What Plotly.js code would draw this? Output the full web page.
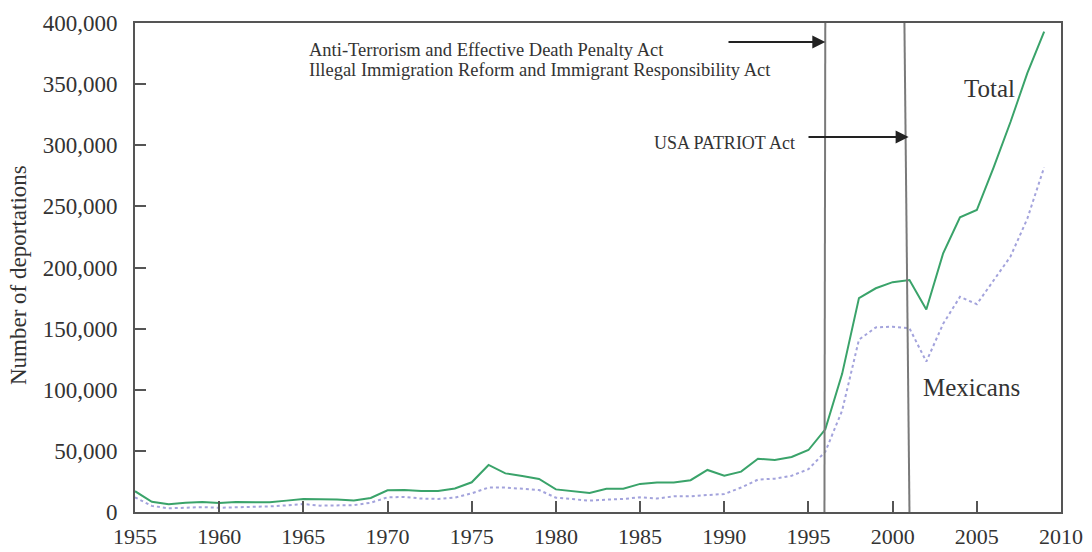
<!DOCTYPE html>
<html>
<head>
<meta charset="utf-8">
<script src="https://cdn.plot.ly/plotly-3.0.1.min.js"></script>
<style>html,body{margin:0;padding:0;background:#fff;}#chart{width:1092px;height:552px;}</style>
</head>
<body>
<div id="chart"></div>
<script>
const years = [1955,1956,1957,1958,1959,1960,1961,1962,1963,1964,1965,1966,1967,1968,1969,1970,1971,1972,1973,1974,1975,1976,1977,1978,1979,1980,1981,1982,1983,1984,1985,1986,1987,1988,1989,1990,1991,1992,1993,1994,1995,1996,1997,1998,1999,2000,2001,2002,2003,2004,2005,2006,2007,2008,2009];
const total = [17000,8400,6300,7600,8200,7400,8200,8200,7900,9300,10600,10400,10300,9500,11500,17700,18000,17200,17200,19300,24300,38500,31600,29400,27000,18500,17200,15500,19000,19000,23000,24200,24200,26000,34400,29700,33000,43600,42500,45000,50700,67600,113000,175000,183000,188000,189800,165700,211600,241000,247000,282000,319000,359000,393000];
const mexicans = [12000,5000,3000,3300,4000,3500,3800,4000,4600,5400,6500,5200,5400,5600,7600,12000,12300,11000,10700,11800,15300,20000,20000,19300,18000,11700,10700,9300,10100,10700,12000,11000,12800,12800,13900,14700,20000,26500,27300,29700,35000,49300,83000,141000,151000,151600,150300,123000,154000,176000,170000,190000,209000,240000,282000];
const xTicks = [1955,1960,1965,1970,1975,1980,1985,1990,1995,2000,2005,2010];
const yTicks = [0,50000,100000,150000,200000,250000,300000,350000,400000];
const yTickText = ["0","50,000","100,000","150,000","200,000","250,000","300,000","350,000","400,000"];
const lawYears = [1996, 2001];
const lawLines = ["Anti-Terrorism and Effective Death Penalty Act",
                  "Illegal Immigration Reform and Immigrant Responsibility Act",
                  "USA PATRIOT Act"];

const serif = "Liberation Serif, Times New Roman, serif";
const txt = "#333";
const frame = "#555";

// pixel -> data helpers for annotation placement (plot area 135..1061 x 23..512)
const toX = px => 1955 + (px - 135) / (926 / 55);
const toY = py => (512 - py) / 489 * 400000;

const traces = [
  {x: years, y: mexicans, type: "scatter", mode: "lines", name: "Mexicans",
   line: {color: "#a3a3dc", width: 2, dash: "dot"}},
  {x: years, y: total, type: "scatter", mode: "lines", name: "Total",
   line: {color: "#3aa36a", width: 2}}
];

const layout = {
  width: 1092, height: 552,
  margin: {l: 135, r: 31, t: 23, b: 40, pad: 0},
  paper_bgcolor: "#fff", plot_bgcolor: "#fff",
  showlegend: false,
  font: {family: serif, color: txt, size: 23},
  xaxis: {
    range: [1955, 2010], tickmode: "array", tickvals: xTicks, ticktext: xTicks.map(String),
    ticks: "inside", ticklen: 11, tickwidth: 2, tickcolor: frame,
    showline: true, linecolor: frame, linewidth: 2, mirror: true,
    showgrid: false, zeroline: false, ticklabelstandoff: 4,
    tickfont: {family: serif, size: 22, color: txt}
  },
  yaxis: {
    range: [0, 400000], tickmode: "array", tickvals: yTicks, ticktext: yTickText,
    ticks: "inside", ticklen: 11, tickwidth: 2, tickcolor: frame,
    showline: true, linecolor: frame, linewidth: 2, mirror: true,
    showgrid: false, zeroline: false, ticklabelstandoff: 11,
    tickfont: {family: serif, size: 23, color: txt}
  },
  shapes: [
    {type: "line", xref: "x", yref: "y", x0: lawYears[0], x1: lawYears[0] - 0.05, y0: 400000, y1: 0,
     line: {color: "#7a7a7a", width: 2}},
    {type: "line", xref: "x", yref: "y", x0: lawYears[1] - 0.3, x1: lawYears[1], y0: 400000, y1: 0,
     line: {color: "#7a7a7a", width: 2}}
  ],
  annotations: [
    {xref: "paper", yref: "paper", x: (18 - 135) / 926, y: (512 - 275) / 489, xanchor: "center", yanchor: "middle",
     textangle: -90, showarrow: false, text: "Number of deportations",
     font: {family: serif, size: 23, color: txt}},
    {xref: "x", yref: "y", x: lawYears[0], y: toY(42), axref: "x", ayref: "y", ax: toX(727), ay: toY(42),
     showarrow: true, arrowhead: 2, arrowsize: 1.3, arrowwidth: 2, arrowcolor: "#222", text: ""},
    {xref: "x", yref: "y", x: lawYears[1] - 0.05, y: toY(137), axref: "x", ayref: "y", ax: toX(807), ay: toY(137),
     showarrow: true, arrowhead: 2, arrowsize: 1.3, arrowwidth: 2, arrowcolor: "#222", text: ""},
    {xref: "x", yref: "y", x: toX(307), y: toY(50), xanchor: "left", yanchor: "middle", showarrow: false,
     text: lawLines[0], font: {family: serif, size: 18.5, color: txt}},
    {xref: "x", yref: "y", x: toX(307), y: toY(70), xanchor: "left", yanchor: "middle", showarrow: false,
     text: lawLines[1], font: {family: serif, size: 18.5, color: txt}},
    {xref: "x", yref: "y", x: toX(797), y: toY(143), xanchor: "right", yanchor: "middle", showarrow: false,
     text: lawLines[2], font: {family: serif, size: 18, color: txt}},
    {xref: "x", yref: "y", x: toX(989), y: toY(88), xanchor: "center", yanchor: "middle", showarrow: false,
     text: "Total", font: {family: serif, size: 25, color: txt}},
    {xref: "x", yref: "y", x: toX(971), y: toY(387), xanchor: "center", yanchor: "middle", showarrow: false,
     text: "Mexicans", font: {family: serif, size: 25, color: txt}}
  ]
};
Plotly.newPlot("chart", traces, layout, {displayModeBar: false, staticPlot: true});
</script>
</body>
</html>
